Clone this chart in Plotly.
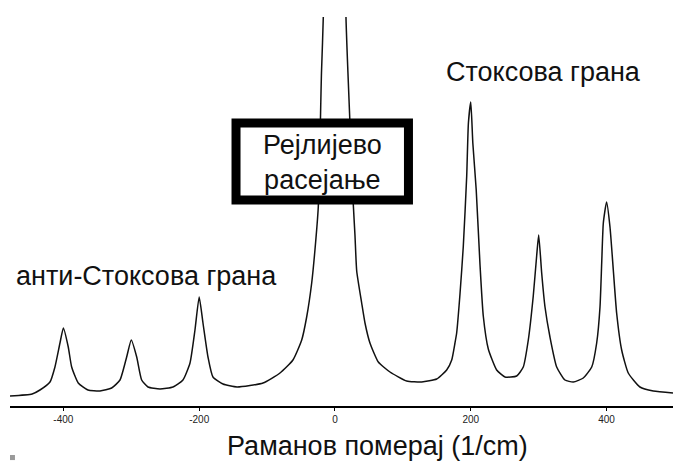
import plotly.graph_objects as go

# Raman shift (1/cm) and intensity (arbitrary units)
raman_shift = [-478.6, -446, -434.5, -419.7, -412.4, -405, -400, -392.8, -387.8, -378.1,
               -363.8, -346.1, -328.9, -316.6, -306.8, -300, -292, -284.7, -275.4, -257.7,
               -238.6, -223.9, -213.5, -206.2, -200, -194.4, -187, -179.7, -164.9, -144.3,
               -106, -81, -61.9, -49, -41.7, -34.3, -29.5, -24.6, -19.9, -17.2,
               0, 16.2, 19.1, 27, 29.5, 32, 39.3, 44.2, 51.5, 63.8,
               81, 105.6, 127.7, 149.8, 164.5, 171.9, 176.7, 179.2, 184.1, 189,
               194, 196.5, 200, 203, 208, 213.6, 218.4, 225.8, 238.1, 250.4,
               267.6, 277.3, 284.7, 292, 297, 300, 304.4, 309.3, 316.6, 326.5,
               338.7, 351, 365.7, 378.1, 385.4, 390.3, 392.8, 395.2, 400, 405,
               409.9, 414.8, 422.2, 431.9, 449.1, 468.8, 497.8]
intensity = [10, 12, 16, 24, 39, 63, 78, 59, 39, 23,
             16, 15, 18, 26, 49, 66, 49, 26, 19, 17,
             19, 26, 43, 76, 109, 83, 49, 29, 22, 19,
             23, 33, 46, 66, 89, 123, 156, 199, 333, 389,
             1400, 389, 333, 201, 170, 135, 103, 83, 63, 44,
             34, 25, 24, 27, 36, 46, 63, 73, 112, 160,
             230, 283, 304, 263, 216, 141, 90, 57, 36, 29,
             30, 39, 66, 110, 150, 171, 133, 99, 69, 39,
             26, 24, 28, 39, 63, 99, 143, 183, 204, 179,
             136, 93, 56, 33, 19, 15, 13]

tick_vals = [-400, -200, 0, 200, 400]
tick_text = ["-400", "-200", "0", "200", "400"]

label_anti = "анти-Стоксова грана"
label_stokes = "Стоксова грана"
label_rayleigh = "Рејлијево<br>расејање"
x_title = "Раманов померај (1/cm)"

FONT = "Liberation Sans, Arial, sans-serif"

fig = go.Figure()
fig.add_trace(go.Scatter(x=raman_shift, y=intensity, mode="lines",
                         line=dict(color="#111111", width=1.5, shape="spline", smoothing=0.5),
                         hoverinfo="skip", showlegend=False))

fig.update_layout(
    width=673, height=461,
    margin=dict(l=10, r=0, t=17, b=55),
    paper_bgcolor="white", plot_bgcolor="white",
    font=dict(family=FONT, color="#111111"),
    xaxis=dict(range=[-478.6, 497.8], showgrid=False, zeroline=False,
               showline=True, linecolor="black", linewidth=2,
               ticks="outside", ticklen=3, tickwidth=1, tickcolor="black",
               tickvals=tick_vals, ticktext=tick_text,
               tickfont=dict(size=10, color="#222222", family=FONT)),
    yaxis=dict(range=[0, 389], visible=False, showgrid=False, zeroline=False),
    shapes=[
        dict(type="rect", xref="paper", yref="paper",
             x0=0.3409, x1=0.601, y0=0.5296, y1=0.7275,
             line=dict(color="black", width=9), fillcolor="white", layer="above"),
        dict(type="rect", xref="paper", yref="paper",
             x0=0.0, x1=0.0075, y0=-0.139, y1=-0.126,
             line=dict(width=0), fillcolor="#9a9a9a"),
    ],
    annotations=[
        dict(text=label_stokes, xref="paper", yref="paper", x=0.804, y=0.858,
             xanchor="center", yanchor="middle", showarrow=False,
             font=dict(size=27, family=FONT, color="#111111")),
        dict(text=label_anti, xref="paper", yref="paper", x=0.2066, y=0.334,
             xanchor="center", yanchor="middle", showarrow=False,
             font=dict(size=27, family=FONT, color="#111111")),
        dict(text=label_rayleigh, xref="paper", yref="paper", x=0.4713, y=0.627,
             xanchor="center", yanchor="middle", showarrow=False,
             font=dict(size=27, family=FONT, color="#111111")),
        dict(text=x_title, xref="paper", yref="paper", x=0.5543, y=-0.103,
             xanchor="center", yanchor="middle", showarrow=False,
             font=dict(size=27, family=FONT, color="#111111")),
    ],
)

fig.write_html("out.html", config={"displayModeBar": False},
               post_script="document.body.style.margin='0';document.body.style.overflow='hidden';")
